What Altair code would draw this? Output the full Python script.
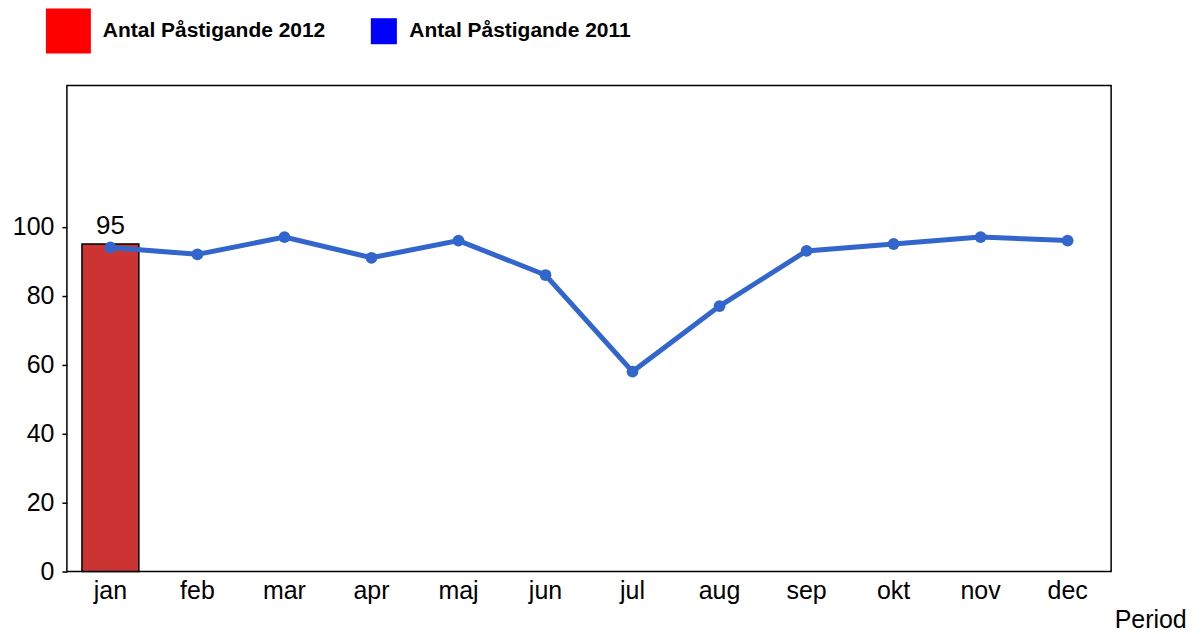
import altair as alt
import pandas as pd

months = ["jan", "feb", "mar", "apr", "maj", "jun", "jul", "aug", "sep", "okt", "nov", "dec"]
values_2011 = [94, 92, 97, 91, 96, 86, 58, 77, 93, 95, 97, 96]
months_2012 = ["jan"]
values_2012 = [95]
series_names = ["Antal Påstigande 2012", "Antal Påstigande 2011"]
legend_colors = ["#ff0000", "#0000ff"]

df11 = pd.DataFrame({"Period": months, "value": values_2011})
df12 = pd.DataFrame({"Period": months_2012, "value": values_2012})
dleg = pd.DataFrame({"series": series_names})

FONT = "Liberation Sans"

x_enc = alt.X("Period:N", sort=months,
              scale=alt.Scale(domain=months, paddingInner=0, paddingOuter=0),
              axis=alt.Axis(title="Period", labelAngle=0, ticks=False, domain=False,
                            labelFontSize=25, labelPadding=7, labelColor="black",
                            labelFont=FONT, titleFont=FONT, titleFontSize=25,
                            titleFontWeight="normal", titleColor="black",
                            titleAlign="left", titleBaseline="top",
                            titleX=1049, titleY=36))
y_enc = alt.Y("value:Q", scale=alt.Scale(domain=[0, 141], nice=False),
              axis=alt.Axis(title=None, values=[0, 20, 40, 60, 80, 100], grid=False,
                            domain=False, tickColor="black", tickSize=5, tickWidth=1.5,
                            labelFontSize=25, labelPadding=8, labelColor="black",
                            labelFont=FONT))

bars = alt.Chart(df12).mark_bar(color="#cc3333", stroke="black", strokeWidth=1.5,
                                size=57).encode(x=x_enc, y=y_enc)
bar_text = alt.Chart(df12).mark_text(font=FONT, fontSize=26, color="black",
                                     baseline="alphabetic", dy=-10).encode(
    x=alt.X("Period:N", sort=months), y="value:Q", text="value:Q")
line = alt.Chart(df11).mark_line(color="#3366cc", strokeWidth=5).encode(
    x=alt.X("Period:N", sort=months), y="value:Q")
pts = alt.Chart(df11).mark_circle(color="#3366cc", size=140, opacity=1).encode(
    x=alt.X("Period:N", sort=months), y="value:Q")

legend_kw = dict(title=None, orient="none", direction="horizontal",
                 legendX=-21, legendY=-77, symbolType="square",
                 symbolOpacity=1, symbolStrokeWidth=0,
                 labelFont=FONT, labelFontSize=21, labelLimit=0,
                 labelFontWeight="bold", labelColor="black",
                 labelOffset=12, columnPadding=45, padding=0)

legend_layer = alt.Chart(dleg).mark_point(shape="square", filled=True, opacity=0).encode(
    color=alt.Color("series:N", scale=alt.Scale(domain=series_names, range=legend_colors),
                    legend=alt.Legend(**legend_kw)),
    size=alt.Size("series:N", scale=alt.Scale(domain=series_names, range=[2025, 680]),
                  legend=alt.Legend(**legend_kw)),
)

chart = alt.layer(bars, line, pts, bar_text, legend_layer).properties(
    width=1046, height=487,
    autosize=alt.AutoSizeParams(type="none"),
    padding={"left": 59, "top": 77, "right": 83, "bottom": 60},
).configure(background="white").configure_view(stroke="black", strokeWidth=1.5)

chart.save("out.html", embed_options={"renderer": "svg", "actions": False})
